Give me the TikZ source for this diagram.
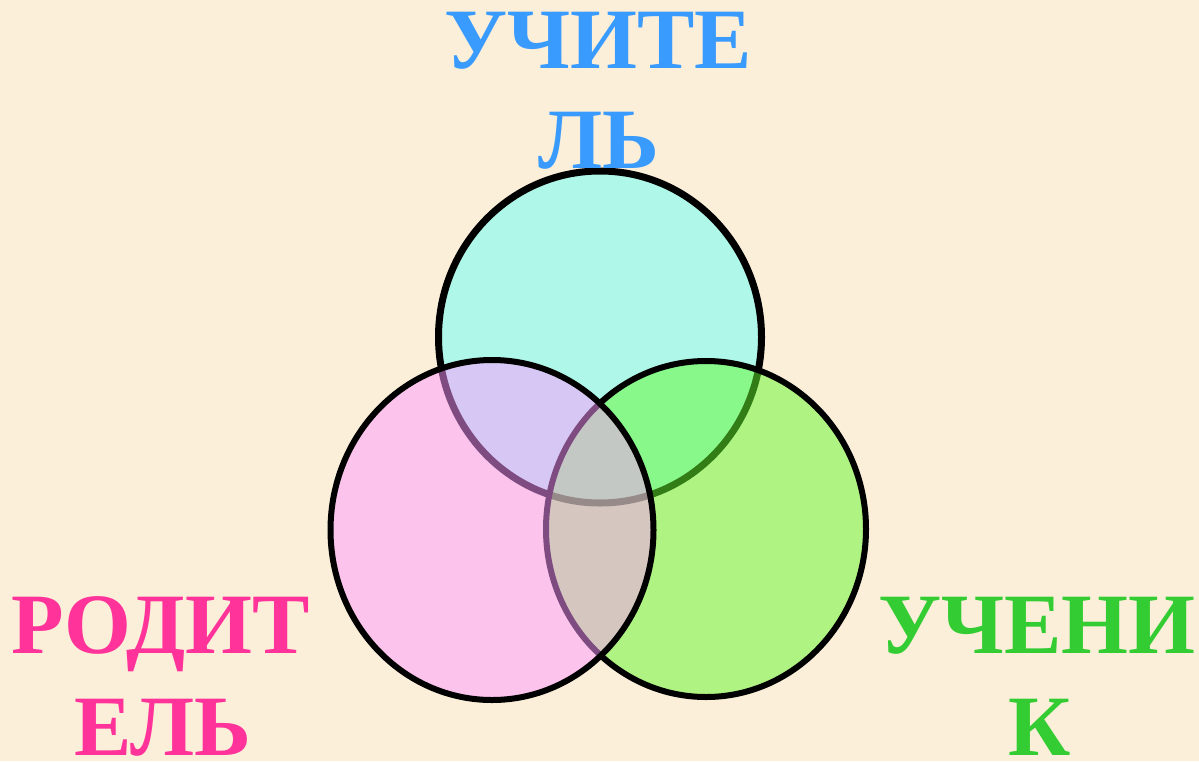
\documentclass[tikz,border=0pt]{standalone}
\usepackage{fontspec}
\setmainfont{Liberation Serif}
\definecolor{bg}{RGB}{251,239,217}
\definecolor{cyanfill}{RGB}{100,255,250}
\definecolor{greenfill}{RGB}{100,250,45}
\definecolor{pinkfill}{RGB}{253,153,255}
\definecolor{bluetxt}{RGB}{58,155,255}
\definecolor{pinktxt}{RGB}{255,51,153}
\definecolor{greentxt}{RGB}{51,204,51}
\tikzset{
  venn/.style={draw=black, line width=6pt, fill opacity=0.5},
  label/.style={inner sep=0pt, anchor=base, text depth=0pt, font=\fontsize{86}{100}\selectfont\bfseries},
}
\begin{document}
\begin{tikzpicture}[x=1pt,y=-1pt]
\fill[bg] (0,0) rectangle (1199,761);
\useasboundingbox (0,0) rectangle (1199,761);
% circles: teacher, pupil, parent (drawing order)
\draw[venn, line width=7pt, fill=cyanfill] (600,337) ellipse [x radius=161.5pt, y radius=166pt];
\draw[venn, fill=greenfill] (706,529) ellipse [x radius=160pt, y radius=168pt];
\draw[venn, fill=pinkfill] (492,530) ellipse [x radius=161.5pt, y radius=170pt];
% labels
\node[label, text=bluetxt] (teacherA) at (598,68) {УЧИТЕ};
\node[label, text=bluetxt] (teacherB) at (599,168) {ЛЬ};
\node[label, text=pinktxt] (parentA) at (161,653) {РОДИТ};
\node[label, text=pinktxt] (parentB) at (163,755) {ЕЛЬ};
\node[label, text=greentxt] (pupilA) at (1037,653) {УЧЕНИ};
\node[label, text=greentxt] (pupilB) at (1040,755) {К};
\end{tikzpicture}
\end{document}
